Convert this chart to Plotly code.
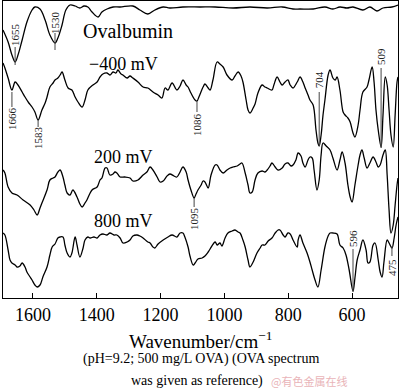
import plotly.graph_objects as go

# Wavenumber (cm^-1) and relative transmittance (a.u., stacked)
ova_wn = [1694,1678,1666,1656,1647,1634,1619,1603,1594,1578,1562,1547,1531,1522,1509,1497,1484,1468,1453,1440,1428,1415,1396,1384,1368,1349,1327,1287,1265,1240,1218,1192,1171,1130,1076,1029,973,920,866,819,785,763,722,685,660,638,616,597,566,544,522,503,475,456]
ova_val = [268,256,243,236,243,258,276,288,291,289,278,263,255,260,273,288,293,292,290,292,291,286,281,286,289,291,291,292,288,284,288,291,290,291,291,291,290,291,290,291,289,289,289,291,289,291,290,291,288,291,287,290,291,293]

m400_wn = [1694,1688,1678,1666,1656,1647,1634,1625,1613,1603,1594,1584,1572,1562,1556,1547,1537,1531,1522,1515,1509,1500,1490,1478,1468,1459,1446,1437,1428,1412,1399,1390,1381,1368,1359,1349,1340,1334,1324,1318,1305,1296,1287,1271,1255,1240,1224,1208,1196,1186,1177,1164,1149,1139,1130,1120,1114,1105,1092,1086,1080,1067,1061,1051,1045,1036,1023,1014,1004,992,976,967,957,948,942,932,926,920,910,904,895,882,873,866,851,845,835,826,819,810,801,794,785,772,763,754,747,738,732,722,713,707,703,697,691,685,675,669,660,653,647,638,628,622,613,606,597,591,581,575,566,553,547,537,531,525,518,509,503,496,490,484,478,471,465,459,456]
m400_val = [235,230,220,208,216,213,206,201,195,191,186,178,188,195,201,211,215,218,220,223,226,218,210,208,201,196,191,198,208,213,216,221,224,225,223,226,225,228,224,223,220,222,220,216,211,210,206,203,200,210,208,215,208,212,218,213,211,205,198,197,201,211,214,210,208,218,236,234,231,223,218,222,226,222,216,198,188,185,190,194,205,213,211,210,208,213,221,216,213,216,218,213,210,216,221,216,210,203,198,193,168,155,152,163,183,198,223,228,220,218,221,208,186,183,180,176,165,161,173,188,206,211,218,231,216,188,168,151,183,221,213,188,163,151,183,216,221]

p200_wn = [1694,1688,1678,1666,1650,1631,1609,1597,1587,1578,1572,1556,1547,1537,1531,1522,1515,1506,1500,1493,1484,1475,1462,1453,1446,1437,1431,1415,1399,1390,1384,1374,1368,1359,1349,1343,1337,1327,1312,1296,1287,1271,1255,1243,1233,1224,1211,1202,1192,1180,1171,1158,1149,1139,1130,1120,1114,1105,1095,1089,1083,1073,1067,1061,1051,1042,1029,1023,1014,1004,992,982,973,960,951,945,935,926,920,913,904,895,882,873,866,857,851,841,832,819,810,801,791,785,776,769,760,754,747,738,732,725,719,710,703,697,691,681,669,660,647,638,631,622,613,606,600,591,581,575,569,562,553,544,534,525,518,512,503,496,490,484,478,471,465,459,456]
p200_val = [128,125,111,105,103,98,93,88,83,90,95,108,118,120,121,126,128,121,113,105,103,108,101,94,91,95,98,108,111,118,120,130,130,123,124,126,125,121,121,120,117,118,123,126,131,128,121,116,117,122,124,122,121,126,131,126,118,108,100,104,108,113,117,116,110,123,133,133,128,125,128,130,131,132,134,135,125,113,105,106,118,125,127,126,128,132,135,131,128,130,134,135,132,133,138,145,142,135,131,138,141,140,128,108,118,143,155,152,148,140,128,138,146,135,113,101,96,113,133,143,148,140,130,135,141,136,131,133,143,148,123,88,65,73,93,113,120]

p800_wn = [1694,1688,1678,1672,1666,1656,1650,1641,1634,1625,1619,1609,1603,1594,1587,1578,1569,1556,1547,1540,1531,1522,1515,1506,1500,1493,1484,1478,1468,1462,1453,1443,1437,1428,1421,1409,1399,1390,1381,1368,1359,1346,1337,1327,1318,1305,1296,1287,1274,1265,1255,1240,1233,1224,1218,1208,1192,1177,1164,1149,1139,1130,1124,1114,1108,1098,1092,1083,1070,1061,1051,1045,1029,1023,1014,1008,998,989,976,967,957,951,942,935,926,920,910,898,888,882,873,863,851,841,832,826,816,810,801,794,785,772,769,763,754,741,732,725,716,707,697,685,675,669,660,647,638,628,619,609,597,591,584,575,566,556,550,544,534,528,518,512,506,500,490,484,475,468,462,456]
p800_val = [65,63,48,38,35,33,31,32,35,31,26,21,18,13,11,13,21,31,43,51,54,60,61,61,53,45,41,45,61,53,41,50,58,61,60,61,60,63,64,63,65,63,63,60,55,56,58,62,63,62,60,56,55,51,50,54,58,61,63,61,65,65,61,51,42,33,35,39,40,42,46,49,56,53,55,52,60,65,67,68,66,65,58,51,38,31,36,45,50,53,53,57,60,65,68,68,63,61,65,64,58,51,58,63,55,45,36,28,18,11,28,51,62,65,65,64,53,50,43,28,7,20,38,48,58,48,35,36,53,55,38,26,21,36,58,55,50,60,73,81]

series_names = ["Ovalbumin", "\u2212400 mV", "200 mV", "800 mV"]
label_wn = [1302, 1315, 1315, 1315]
label_val = [267, 234, 141, 77]
label_size = [20, 18, 18, 18]

# Peak markers: wavenumber, text, line from/to, text centre
peak_text = ["1655", "1530", "1666", "1583", "1086", "1095", "704", "509", "596", "475"]
peak_wn = [1656, 1531, 1666, 1584, 1086, 1095, 703, 509, 597, 475]
peak_y0 = [251, 265, 206, 178, 197, 100, 206, 230, 49, 52]
peak_y1 = [233, 248, 191, 171, 186, 91, 152, 150, 6, 42]
peak_ty = [263, 275, 180, 160, 174, 79, 218, 241, 59, 31]

tick_vals = [1600, 1400, 1200, 1000, 800, 600]

SERIF = "Liberation Serif, Times New Roman, serif"

fig = go.Figure()
for wn, val in [(ova_wn, ova_val), (m400_wn, m400_val), (p200_wn, p200_val), (p800_wn, p800_val)]:
    fig.add_trace(go.Scatter(x=wn, y=val, mode="lines", line=dict(color="black", width=1.3),
                             line_shape="spline", showlegend=False, hoverinfo="skip"))

for name, lx, ly, fs in zip(series_names, label_wn, label_val, label_size):
    fig.add_annotation(x=lx, y=ly, xref="x", yref="y", text=name, showarrow=False,
                       font=dict(family=SERIF, size=fs, color="black"))

for t, w, a, b, ty in zip(peak_text, peak_wn, peak_y0, peak_y1, peak_ty):
    fig.add_shape(type="line", x0=w, x1=w, y0=a, y1=b, xref="x", yref="y",
                  line=dict(color="#444", width=1))
    fig.add_annotation(x=w, y=ty, xref="x", yref="y", text=t, showarrow=False, textangle=-90,
                       font=dict(family=SERIF, size=11, color="#222"))

fig.add_annotation(x=0.5, y=0, xref="paper", yref="paper", yanchor="middle", yshift=-42,
                   text="Wavenumber/cm<sup>\u22121</sup>", showarrow=False,
                   font=dict(family=SERIF, size=19, color="black"))
fig.add_annotation(x=0.5, y=0, xref="paper", yref="paper", yanchor="middle", yshift=-61,
                   text="(pH=9.2; 500 mg/L OVA) (OVA spectrum", showarrow=False,
                   font=dict(family=SERIF, size=14, color="black"))
fig.add_annotation(x=0.49, y=0, xref="paper", yref="paper", yanchor="middle", yshift=-83,
                   text="was given as reference)", showarrow=False,
                   font=dict(family=SERIF, size=14, color="black"))
fig.add_annotation(x=0.876, y=0, xref="paper", yref="paper", yanchor="middle", yshift=-83,
                   text="@有色金属在线", showarrow=False,
                   font=dict(family="Noto Sans CJK SC", size=11, color="#e9b4b8"))

fig.update_layout(
    width=400, height=391,
    margin=dict(l=3, r=2, t=1, b=93),
    paper_bgcolor="white", plot_bgcolor="white",
    xaxis=dict(range=[1694, 456], tickvals=tick_vals, ticks="inside", ticklen=5, tickwidth=1,
               tickcolor="black", showline=True, linecolor="black", linewidth=1, mirror=True,
               showgrid=False, zeroline=False,
               tickfont=dict(family=SERIF, size=18, color="black")),
    yaxis=dict(range=[0, 297], showticklabels=False, ticks="", showline=True, linecolor="black",
               linewidth=1, mirror=True, showgrid=False, zeroline=False),
)

fig.write_html("out.html", config={"displayModeBar": False},
               post_script="document.body.style.margin='0px';document.body.style.overflow='hidden';")
